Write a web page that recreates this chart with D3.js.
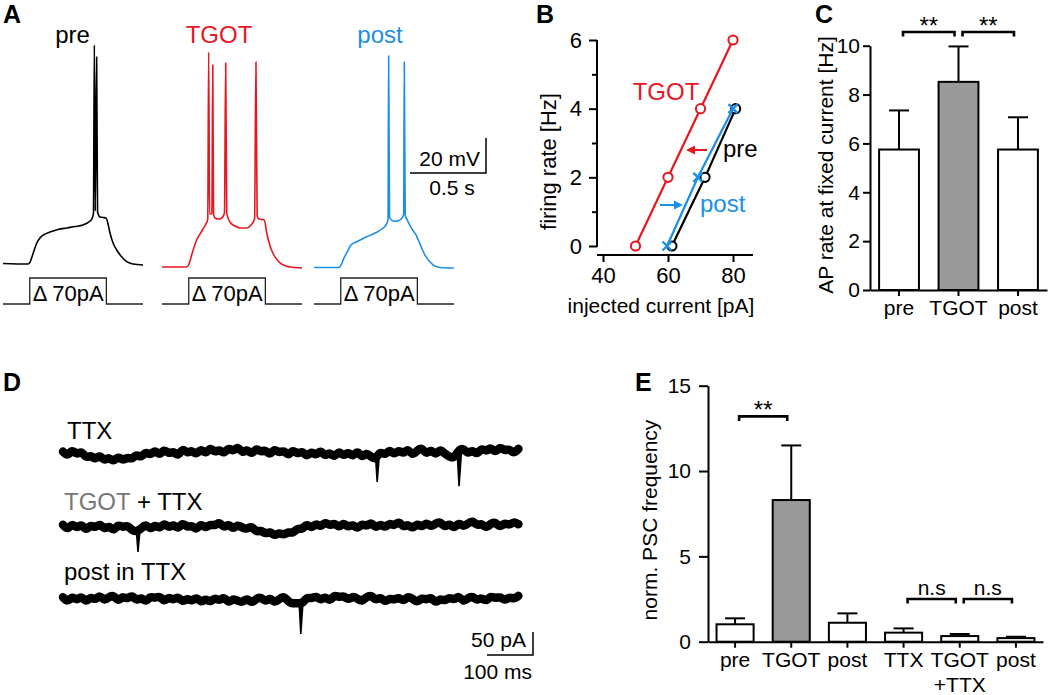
<!DOCTYPE html>
<html><head><meta charset="utf-8">
<script src="https://cdn.jsdelivr.net/npm/d3@7"></script>
<style>
body{margin:0;background:#fff;}
svg{font-family:"Liberation Sans",Arial,Helvetica,sans-serif;}
</style></head><body>
<svg id="chart" width="1050" height="695"></svg>
<script>
// ================= DATA =================
// Panel A: membrane potential traces [time ms, mV]
const aPre = [[0,-69.7],[164,-70],[178,-68.9],[197,-64.3],[222,-58],[243,-55.1],[276,-52.9],[309,-51.7],[362,-50.3],[419,-49.4],[474,-48.6],[526,-47.7],[559,-46.3],[584,-44.3],[595,-41.4],[601,55.1],[607,-39.7],[616,48.3],[622,-40.3],[638,-43.1],[658,-43.4],[678,-43.7],[691,-47.1],[704,-52.3],[724,-58],[748,-62],[776,-65.4],[814,-68.6],[855,-70],[921,-70.6]];
const aTGOT = [[0,-71.7],[164,-71.7],[178,-70],[197,-64.3],[228,-56.3],[250,-52.9],[270,-50],[289,-47.1],[301,-44.3],[307,51.1],[313,-41.4],[320,-41.4],[328,-41],[334,43.7],[339,-41.4],[349,-43.7],[371,-44.3],[393,-43.7],[411,-40.9],[419,44.9],[426,-40.9],[447,-46],[480,-48.3],[513,-49.4],[557,-49.4],[586,-47.7],[609,-44.3],[618,45.4],[626,-42.6],[638,-44.3],[673,-44.9],[689,-52.3],[711,-59.7],[732,-64.3],[763,-68.3],[798,-70.6],[842,-71.7],[921,-72.3]];
const aPost = [[0,-72],[164,-72],[178,-70.6],[197,-66.6],[215,-63.7],[243,-59.1],[281,-57.3],[347,-54.4],[401,-52.3],[447,-50],[478,-47.1],[487,-44.3],[491,48.9],[497,-43.1],[511,-44.9],[533,-45.6],[555,-45.3],[584,-43.1],[590,-41.4],[594,45.4],[600,-42],[614,-44.9],[649,-50.6],[671,-53.4],[686,-56.3],[730,-64.9],[785,-70.6],[829,-72],[921,-72.3]];
const aStep = [[0,0],[176,0],[176,70],[680,70],[680,0],[921,0]]; // injected current pA
const aStepLabel = "Δ 70pA";
const aNames = ["pre","TGOT","post"];

// Panel B: firing rate vs injected current
const bCurrentTGOT = [50,60,70,80], bRateTGOT = [0,2,4,6];
const bCurrentPre  = [61.2,71.4,80.8], bRatePre = [0,2,4];
const bCurrentPost = [59.7,69.2,80], bRatePost = [0,2,4];
const bXTicks = [40,60,80], bYTicks = [0,2,4,6], bYMinor = [1,3,5];

// Panel C: AP rate at fixed current
const cCats = ["pre","TGOT","post"];
const cMean = [5.75,8.52,5.75];
const cErr  = [1.6,1.45,1.32];
const cYTicks = [0,2,4,6,8,10];
const cSig = [["pre","TGOT","**",10.56],["TGOT","post","**",10.56]];

// Panel D: current traces (pA, sampled every 10 ms) + events [ms, amplitude pA]
const dTTX = [3,-8,9,-5,6,-12,-4,-15,-3,-18,-8,-20,-6,-17,-9,-14,-2,-11,4,-6,8,-7,10,-3,5,-9,12,-2,7,-5,11,-4,14,0,9,-3,13,2,16,-2,10,-5,12,1,8,-6,11,-1,7,-8,9,-4,6,-10,5,-7,8,-9,3,-11,6,-8,4,-10,7,-12,2,-9,-14,5,-6,9,-5,8,-3,11,-7,6,12,-4,9,-6,10,-2,-8,-12,6,11,-3,8,-5,12,2,14,-1,15,4,10,-2,9];
const dTGOTTTX = [5,-7,9,-4,8,-9,6,-3,9,-6,4,-10,7,-2,5,-8,-10,-4,8,-7,6,-5,10,-3,7,-6,11,-2,5,-8,9,-4,7,2,12,-3,8,-6,6,-2,-5,3,-12,-6,-16,-9,-20,-12,-18,-10,-14,-2,-6,8,-4,9,-1,12,2,10,-3,11,-2,7,-6,9,0,12,-4,8,-3,10,1,14,-2,7,-5,9,-2,11,-1,8,12,-2,9,-5,11,0,7,15,2,9,-4,8,11,-2,10,3,12,6];
const dPost = [6,-5,9,-2,10,-6,8,-1,12,-3,7,11,-4,9,1,12,-3,7,-6,9,3,10,-5,8,-2,9,-6,5,-4,8,-7,4,-6,6,-3,8,-8,4,-2,-6,5,-8,3,7,-5,6,-7,2,9,-4,-8,-6,-9,7,2,10,-2,9,-4,12,5,10,-1,9,3,-4,7,11,-2,8,-6,5,-1,7,-4,9,3,-6,6,-1,8,-8,4,-3,7,-1,11,-5,4,9,-2,6,-4,10,3,8,-2,7,2,9];
const dTTXEvents = [[683,63],[861,72]];
const dTGOTTTXEvents = [[163,54]];
const dPostEvents = [[517,74]];

// Panel E: normalized PSC frequency
const eCats = ["pre","TGOT","post","TTX","TGOT+TTX","post in TTX"];
const eLabels = [["pre"],["TGOT"],["post"],["TTX"],["TGOT","+TTX"],["post"]];
const eMean = [1.02,8.3,1.11,0.53,0.33,0.21];
const eErr  = [0.35,3.2,0.55,0.25,0.12,0.08];
const eYTicks = [0,5,10,15];
const eSig = [["pre","TGOT","**",13.2],["TTX","TGOT+TTX","n.s",2.5],["TGOT+TTX","post in TTX","n.s",2.5]];

// ================= DRAW =================
const RED = "#e8161f", BLUE = "#1b8fe6", GRAY = "#999999";
const svg = d3.select("#chart");

function label(x, y, txt, size, opts = {}) {
  const t = svg.append("text").attr("x", x).attr("y", y).attr("font-size", size).text(txt);
  if (opts.anchor) t.attr("text-anchor", opts.anchor);
  if (opts.fill) t.attr("fill", opts.fill);
  if (opts.bold) t.attr("font-weight", "bold");
  if (opts.rotate) t.attr("transform", `rotate(-90,${x},${y})`).attr("dy", "0.35em");
  return t;
}
function styleAxis(g, size, sw) {
  g.attr("font-family", null).attr("font-size", null);
  g.selectAll("text").attr("font-size", size).attr("fill", "#000");
  g.selectAll("line").attr("stroke", "#000").attr("stroke-width", sw);
  g.selectAll(".domain").attr("stroke", "#000").attr("stroke-width", sw);
}

// Panel letters
[["A",3,23],["B",536,23],["C",815,23],["D",3,391],["E",635,391]].forEach(p =>
  label(p[1], p[2], p[0], 25, {bold:true}));

// ---------- Panel A ----------
const aY = d3.scaleLinear().domain([-70, 50]).range([264, 54]);
const aStepY = d3.scaleLinear().domain([0, 70]).range([304, 278]);
const aTraces = [
  {pts:aPre, color:"#000", x0:3, lab:69.5},
  {pts:aTGOT, color:RED, x0:162, lab:57},
  {pts:aPost, color:BLUE, x0:314, lab:66}
];
aTraces.forEach((tr, i) => {
  const x = d3.scaleLinear().domain([0, 921]).range([tr.x0, tr.x0 + 140]);
  svg.append("path").datum(tr.pts)
    .attr("d", d3.line().x(d => x(d[0])).y(d => aY(d[1])).curve(d3.curveMonotoneX))
    .attr("fill", "none").attr("stroke", tr.color).attr("stroke-width", 1.6);
  svg.append("path").datum(aStep)
    .attr("d", d3.line().x(d => x(d[0])).y(d => aStepY(d[1])))
    .attr("fill", "none").attr("stroke", "#222").attr("stroke-width", 1.3);
  label(x(aStep[2][0]) + 3, 301, aStepLabel, 22);
  label(tr.x0 + tr.lab, 43, aNames[i], 24, {anchor:"middle", fill:tr.color});
});
// scale bar A
{
  const cx = 486, cy = 173;
  const h = aY(-70) - aY(-50);
  const w = 500 * 140 / 921;
  svg.append("path").attr("d", `M${cx - w},${cy}H${cx}V${cy - h}`)
    .attr("fill", "none").attr("stroke", "#000").attr("stroke-width", 1.5);
  label(cx - 6, 166, "20 mV", 21, {anchor:"end"});
  label(cx - 34, 195, "0.5 s", 21, {anchor:"middle"});
}

// ---------- Panel B ----------
const bX = d3.scaleLinear().domain([40, 80]).range([603, 733]);
const bY = d3.scaleLinear().domain([0, 6]).range([246, 40]);
{
  const gy = svg.append("g").attr("transform", "translate(597,0)")
    .call(d3.axisLeft(bY).tickValues(bYTicks).tickFormat(d3.format("d")).tickSize(8).tickPadding(7).tickSizeOuter(0));
  gy.select(".domain").remove();
  styleAxis(gy, 22, 2);
  const gy2 = svg.append("g").attr("transform", "translate(597,0)")
    .call(d3.axisLeft(bY).tickValues(bYMinor).tickSize(5).tickFormat("").tickSizeOuter(0));
  gy2.select(".domain").remove();
  styleAxis(gy2, 22, 2);
  svg.append("line").attr("x1", 597).attr("x2", 597).attr("y1", bY(6)).attr("y2", bY(0) + 1)
    .attr("stroke", "#000").attr("stroke-width", 2);
  const gx = svg.append("g").attr("transform", "translate(0,255)")
    .call(d3.axisBottom(bX).tickValues(bXTicks).tickFormat(d3.format("d")).tickSize(7).tickPadding(5).tickSizeOuter(0));
  gx.select(".domain").remove();
  styleAxis(gx, 22, 2);
  svg.append("line").attr("x1", 597).attr("x2", 753).attr("y1", 255).attr("y2", 255)
    .attr("stroke", "#000").attr("stroke-width", 2);

  const series = [
    {xs:bCurrentTGOT, ys:bRateTGOT, color:RED, mark:"o"},
    {xs:bCurrentPre, ys:bRatePre, color:"#000", mark:"o"},
    {xs:bCurrentPost, ys:bRatePost, color:BLUE, mark:"x"}
  ];
  series.forEach(s => {
    const pts = s.xs.map((v, i) => [v, s.ys[i]]);
    svg.append("path").datum(pts)
      .attr("d", d3.line().x(d => bX(d[0])).y(d => bY(d[1])))
      .attr("fill", "none").attr("stroke", s.color).attr("stroke-width", 2.2);
    pts.forEach(p => {
      const px = bX(p[0]), py = bY(p[1]);
      if (s.mark === "o") {
        svg.append("circle").attr("cx", px).attr("cy", py).attr("r", 4.6)
          .attr("fill", "#fff").attr("stroke", s.color).attr("stroke-width", 2);
      } else {
        svg.append("path").attr("d", `M${px-4.5},${py-4.5}L${px+4.5},${py+4.5}M${px-4.5},${py+4.5}L${px+4.5},${py-4.5}`)
          .attr("stroke", s.color).attr("stroke-width", 2.4);
      }
    });
  });
  label(666, 100, "TGOT", 24, {anchor:"middle", fill:RED});
  label(723, 157, "pre", 24, {});
  label(700, 212, "post", 24, {fill:BLUE});
  // arrows
  svg.append("line").attr("x1", 707).attr("x2", 694).attr("y1", 150).attr("y2", 150).attr("stroke", RED).attr("stroke-width", 2);
  svg.append("path").attr("d", "M686,150L695,145.5L695,154.5Z").attr("fill", RED);
  svg.append("line").attr("x1", 660).attr("x2", 675).attr("y1", 205).attr("y2", 205).attr("stroke", BLUE).attr("stroke-width", 2);
  svg.append("path").attr("d", "M683,205L674,200.5L674,209.5Z").attr("fill", BLUE);
  label(548, 161.5, "firing rate [Hz]", 22, {anchor:"middle", rotate:true});
  label(661, 313, "injected current [pA]", 21, {anchor:"middle"});
}

// ---------- bar chart helper ----------
function barChart(cfg) {
  const x = d3.scaleBand().domain(cfg.cats).range([cfg.x0, cfg.x1]).paddingInner(cfg.pi).paddingOuter(cfg.po);
  const y = d3.scaleLinear().domain(cfg.ydom).range([cfg.y0, cfg.ytop]);
  const gy = svg.append("g").attr("transform", `translate(${cfg.x0},0)`)
    .call(d3.axisLeft(y).tickValues(cfg.yticks).tickFormat(d3.format("d")).tickSize(cfg.ytick).tickPadding(cfg.ypad).tickSizeOuter(0));
  styleAxis(gy, cfg.fs, 2);
  const gx = svg.append("g").attr("transform", `translate(0,${cfg.y0})`)
    .call(d3.axisBottom(x).tickSize(6).tickPadding(4).tickSizeOuter(0).tickFormat(() => ""));
  styleAxis(gx, cfg.fs, 2);
  gx.selectAll(".tick").each(function(d, i) {
    const t = d3.select(this).append("text").attr("y", 10)
      .attr("text-anchor", "middle").attr("font-size", cfg.fs).attr("fill", "#000");
    cfg.labels[i].forEach((s, k) => t.append("tspan").attr("x", 0).attr("dy", k ? "1.2em" : "0.71em").text(s));
  });
  cfg.cats.forEach((c, i) => {
    const bx = x(c), bw = x.bandwidth(), top = y(cfg.mean[i]);
    const cxm = bx + bw / 2, et = y(cfg.mean[i] + cfg.err[i]);
    svg.append("line").attr("x1", cxm).attr("x2", cxm).attr("y1", top).attr("y2", et).attr("stroke", "#000").attr("stroke-width", 2);
    svg.append("line").attr("x1", cxm - 10).attr("x2", cxm + 10).attr("y1", et).attr("y2", et).attr("stroke", "#000").attr("stroke-width", 2);
    svg.append("rect").attr("x", bx).attr("y", top).attr("width", bw).attr("height", cfg.y0 - top)
      .attr("fill", c === "TGOT" ? GRAY : "#fff").attr("stroke", "#000").attr("stroke-width", 2);
  });
  cfg.sig.forEach(s => {
    const xa = x(s[0]) + x.bandwidth() / 2 + 4, xb = x(s[1]) + x.bandwidth() / 2 - 4, yy = y(s[3]);
    svg.append("path").attr("d", `M${xa},${yy + 4.5}V${yy}H${xb}V${yy + 4.5}`)
      .attr("fill", "none").attr("stroke", "#000").attr("stroke-width", 2.6);
    const isStar = s[2] === "**";
    label((xa + xb) / 2, yy + (isStar ? 2 : -4), s[2], isStar ? 24 : 21, {anchor:"middle"});
  });
  label(cfg.lx, cfg.ly, cfg.ylabel, cfg.lfs, {anchor:"middle", rotate:true});
  return {x, y};
}

// ---------- Panel C ----------
barChart({cats:cCats, labels:cCats.map(c => [c]), mean:cMean, err:cErr, x0:870, x1:1047, pi:0.33, po:0.153,
  ydom:[0,10], y0:290, ytop:45.7, yticks:cYTicks, ytick:7, ypad:3, fs:21, sig:cSig,
  ylabel:"AP rate at fixed current [Hz]", lx:826, ly:165, lfs:21});

// ---------- Panel D ----------
{
  const dX = d3.scaleLinear().domain([0, 1000]).range([63, 523]);
  const dY = d3.scaleLinear().domain([0, 50]).range([0, -23]);
  const traces = [
    {vals:dTTX, ev:dTTXEvents, base:453},
    {vals:dTGOTTTX, ev:dTGOTTTXEvents, base:527},
    {vals:dPost, ev:dPostEvents, base:600}
  ];
  traces.forEach(tr => {
    const g = svg.append("g").attr("transform", `translate(0,${tr.base})`);
    // smoothed core of the noisy recording + raw samples as a jagged stroke
    g.append("path").datum(tr.vals)
      .attr("d", d3.line().x((d, i) => dX(i * 10)).y(d => dY(d)).curve(d3.curveBasis))
      .attr("fill", "none").attr("stroke", "#000").attr("stroke-width", 8.5).attr("stroke-linecap", "round");
    g.append("path").datum(tr.vals)
      .attr("d", d3.line().x((d, i) => dX(i * 10)).y(d => dY(d)))
      .attr("fill", "none").attr("stroke", "#000").attr("stroke-width", 3).attr("stroke-linejoin", "bevel");
    tr.ev.forEach(e => {
      const b = 0;
      g.append("path").attr("d", `M${dX(e[0] - 4)},${dY(b)}L${dX(e[0])},${dY(b - e[1])}L${dX(e[0] + 5)},${dY(b)}`)
        .attr("fill", "#000").attr("stroke", "#000").attr("stroke-width", 1.6);
    });
  });
  label(67, 439, "TTX", 24);
  const t2 = label(64, 510, "", 24);
  t2.append("tspan").attr("fill", "#777").text("TGOT");
  t2.append("tspan").attr("fill", "#000").text(" + TTX");
  label(64, 580, "post in TTX", 24);
  const cx = 533, cy = 655;
  const h = dY(0) - dY(50), w = dX(100) - dX(0);
  svg.append("path").attr("d", `M${cx - w},${cy}H${cx}V${cy - h}`)
    .attr("fill", "none").attr("stroke", "#000").attr("stroke-width", 1.5);
  label(cx - 7, 647, "50 pA", 21, {anchor:"end"});
  label(cx - 1, 679, "100 ms", 21, {anchor:"end"});
}

// ---------- Panel E ----------
barChart({cats:eCats, labels:eLabels, mean:eMean, err:eErr, x0:708, x1:1043, pi:0.34, po:0.152,
  ydom:[0,15], y0:641.7, ytop:385.7, yticks:eYTicks, ytick:9, ypad:8, fs:21, sig:eSig,
  ylabel:"norm. PSC frequency", lx:650, ly:520, lfs:21});
</script>
</body></html>
